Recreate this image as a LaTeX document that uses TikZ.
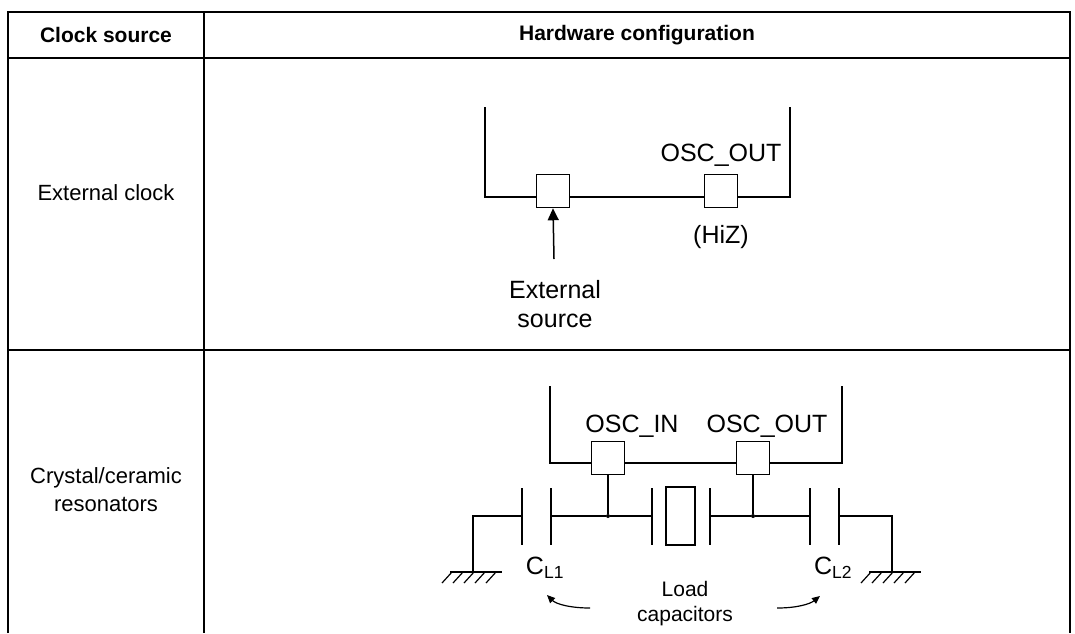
\documentclass[tikz,border=0pt]{standalone}
\usepackage{fontspec}
\setmainfont{Liberation Sans}
\usetikzlibrary{arrows.meta}
\begin{document}
\begin{tikzpicture}[x=1pt,y=-1pt,
  tbl/.style={line width=2pt},
  wire/.style={line width=2pt},
  pin/.style={draw,line width=1.5pt,minimum size=33pt,inner sep=0pt,fill=white},
  lbl/.style={font=\fontsize{25}{29}\selectfont,inner sep=0pt},
  cell/.style={font=\fontsize{22}{28}\selectfont,align=center,inner sep=0pt},
  hdr/.style={font=\fontsize{21}{26}\selectfont\bfseries,inner sep=0pt},
  dot/.style={circle,fill,inner sep=0pt,minimum size=4pt}]
\useasboundingbox (0,0) rectangle (1075,633);
% table
\draw[tbl] (8,633) -- (8,12) -- (1070,12) -- (1070,633);
\draw[tbl] (204,12) -- (204,633);
\draw[tbl] (8,58) -- (1070,58);
\draw[tbl] (8,350) -- (1070,350);
\node[hdr] (h1) at (106,35) {Clock source};
\node[hdr] (h2) at (637,35) {Hardware configuration};
\node[cell] (c1) at (106,193) {External clock};
\node[cell] (c2) at (106,490) {Crystal/ceramic\\resonators};
% external clock
\draw[wire] (485,107) -- (485,197) -- (790,197) -- (790,107);
\node[pin] (p1) at (553,191) {};
\node[pin] (p2) at (721,191) {};
\node[lbl] (oo1) at (721,155) {OSC\_OUT};
\node[lbl] (hiz) at (721,237) {(HiZ)};
\node[lbl,align=center] (ext) at (555,304) {External\\source};
\coordinate (arrs) at (554,259);
\draw[line width=1.5pt,-{Triangle[length=12pt,width=11pt]}] (arrs) -- (p1.south);
% crystal
\draw[wire] (550,386) -- (550,463) -- (842,463) -- (842,386);
\node[pin] (q1) at (608,458) {};
\node[pin] (q2) at (753,458) {};
\node[lbl] (oi) at (632,426) {OSC\_IN};
\node[lbl] (oo2) at (767,426) {OSC\_OUT};
\node[dot] (j1) at (608,516) {};
\node[dot] (j2) at (753,516) {};
\coordinate (g1) at (473,572);
\coordinate (g2) at (892,572);
\draw[wire] (g1) -- (473,516) -- (522,516);
\draw[wire] (522,488) -- (522,545);
\draw[wire] (551,488) -- (551,545);
\draw[wire] (551,516) -- (j1) -- (652,516);
\draw[wire] (q1.south) -- (j1);
\draw[wire] (652,488) -- (652,545);
\draw[line width=1.5pt] (666,487) rectangle (695,545);
\draw[wire] (710,488) -- (710,545);
\draw[wire] (710,516) -- (j2) -- (810,516);
\draw[wire] (q2.south) -- (j2);
\draw[wire] (810,488) -- (810,545);
\draw[wire] (839,488) -- (839,545);
\draw[wire] (839,516) -- (892,516) -- (g2);
\foreach \gx in {473,892}{
  \draw[line width=1.5pt] (\gx-23,572) -- (\gx+29,572);
  \foreach \k in {0,1,2,3,4}{\draw[line width=1.2pt] (\gx-21+\k*11,572) -- (\gx-31+\k*11,583);}
}
\node[lbl] (cl1) at (545,568) {C\textsubscript{L1}};
\node[lbl] (cl2) at (833,568) {C\textsubscript{L2}};
\node[lbl,align=center,font=\fontsize{21}{25}\selectfont] (load) at (685,604) {Load\\capacitors};
\coordinate (a1) at (590,608); \coordinate (a1e) at (547,595);
\coordinate (a2) at (777,608); \coordinate (a2e) at (820,596);
\draw[line width=1.2pt,-{Triangle[length=8pt,width=7pt]}] (a1) .. controls (570,608) and (556,604) .. (a1e);
\draw[line width=1.2pt,-{Triangle[length=8pt,width=7pt]}] (a2) .. controls (797,608) and (810,604) .. (a2e);
\end{tikzpicture}
\end{document}
